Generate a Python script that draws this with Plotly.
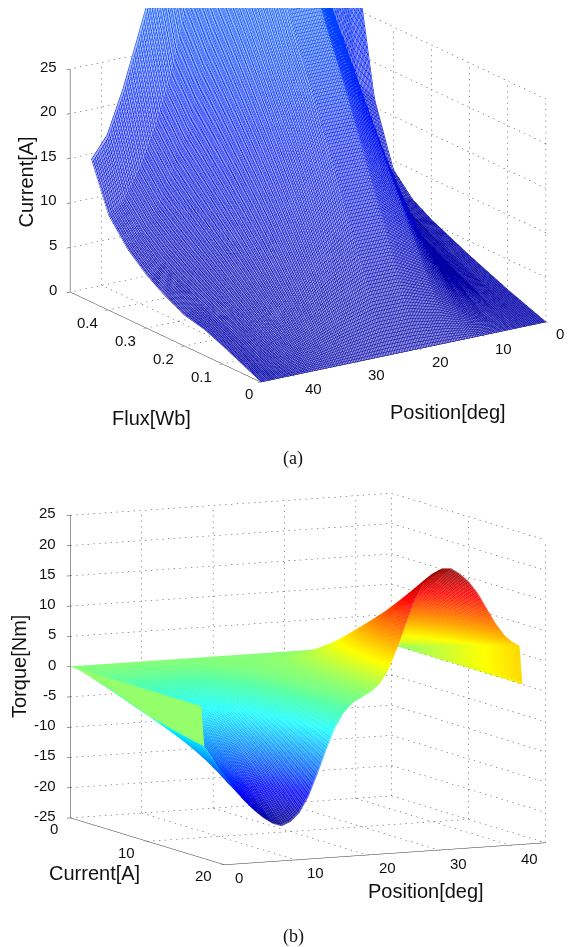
import numpy as np
import plotly.graph_objects as go

# ---------- panel (a) data ----------
flux_wb = [0, .05, .1, .15, .2, .25, .3, .35, .4, .45, .49]
position_a = [0, 2.5, 5, 7.5, 10, 15, 20, 25, 30, 35, 37.5, 40, 42.5, 45]
current_a = [
 [0]*14,
 [.8, .9, 1.1, 1.5, 2.4, 5, 6.5, 6.5, 5, 3, 2.2, 1.6, 1.2, 1.0],
 [1.6, 1.8, 2.2, 3.2, 5, 10, 13, 13, 10, 6, 4.5, 3.2, 2.4, 2.0],
 [2.5, 2.7, 3.3, 4.6, 7.5, 15, 19.5, 19.5, 15, 9, 6.7, 4.8, 3.5, 2.9],
 [3.4, 3.7, 4.4, 6.2, 10, 20, 26, 26, 20, 12, 9, 6.5, 4.6, 3.4],
 [4.4, 4.8, 5.6, 8, 13, 25, 32, 32, 25, 15, 11.2, 8.2, 5.8, 4.5],
 [5.4, 5.9, 7, 10, 16, 30, 39, 39, 30, 18, 13.5, 10, 7.3, 5.9],
 [6.7, 7.3, 8.8, 12.5, 19, 35, 45, 45, 35, 21, 16, 12, 9.3, 7.8],
 [9.0, 9.8, 12, 16, 23, 41, 52, 52, 41, 25, 19.5, 15, 12, 10.6],
 [16, 18, 22, 27, 34, 50, 60, 60, 50, 36, 30, 24, 19, 16.5],
 [28, 32, 38, 45, 55, 68, 72, 72, 70, 70, None, None, None, None],
]
ticks_a_pos = [0, 10, 20, 30, 40]
ticks_a_flux = [0, .1, .2, .3, .4]
ticks_a_cur = [0, 5, 10, 15, 20, 25]
blue_lines = [[0, 'rgb(0,0,165)'], [.25, 'rgb(0,20,255)'], [.5, 'rgb(0,90,255)'], [1, 'rgb(0,180,255)']]
blue_base = [[0, 'rgb(160,160,228)'], [.25, 'rgb(165,172,248)'], [.5, 'rgb(165,195,255)'], [1, 'rgb(180,222,255)']]

# ---------- panel (b) data ----------
current_b = [0, 2, 4, 6, 8, 10, 12, 14, 16, 17]
position_b = [0, .4, .41, 2.5, 5, 6.25, 7.5, 8.75, 10, 11.25, 12.5, 13.75, 15, 16.25, 17.5, 18.75, 20, 21.25, 22.5,
              23.75, 25, 26.25, 27.5, 28.75, 30, 31.25, 32.5, 33.75, 35, 36.25, 37.5, 38.75, 40, 41.25, 42.5, 43.5, 44.6, 45]
# one row per position, one column per current
torque = [
 [0, 0, 0, 0, 0, 0, 0, 0, 0, 0],
 [0, -.8, -1.7, -2.6, -3.6, -4.5, -5.2, -5.8, -6.4, -6.6],
 [0, -.8, -1.7, -2.6, -3.6, -4.5, -5.2, -5.8, -6.4, -6.6],
 [0, -.9, -2, -3.5, -5, -6.4, -7.5, -8.6, -9.9, -10.5],
 [0, -.9, -2.4, -4.4, -6.4, -8.3, -10, -11.7, -13.7, -14.6],
 [0, -.9, -2.6, -4.7, -7, -9.1, -11, -12.9, -15.2, -16.4],
 [0, -.9, -2.7, -5, -7.5, -9.8, -12, -14.1, -16.7, -17.9],
 [0, -.9, -2.8, -5.2, -7.8, -10.3, -12.7, -15, -17.8, -19.2],
 [0, -.9, -2.9, -5.4, -8.1, -10.7, -13.1, -15.8, -18.8, -20.2],
 [0, -.9, -2.9, -5.3, -8.1, -10.7, -13.2, -16.1, -19.2, -20.7],
 [0, -.8, -2.8, -5.2, -7.8, -10.4, -13, -15.7, -18.7, -20.1],
 [0, -.8, -2.6, -4.7, -7.1, -9.4, -11.8, -14.6, -17.4, -18.7],
 [0, -.7, -2.3, -4.1, -6.2, -8.2, -10.3, -12.7, -15, -16.2],
 [0, -.5, -1.7, -3.2, -4.7, -6.3, -8, -9.9, -11.7, -12.6],
 [0, -.4, -1.2, -2.2, -3.3, -4.4, -5.5, -6.8, -8.1, -8.7],
 [0, -.2, -.7, -1.3, -2, -2.6, -3.2, -4, -4.7, -5.1],
 [0, -.1, -.4, -.7, -1, -1.3, -1.7, -2, -2.4, -2.6],
 [0, 0, -.2, -.3, -.4, -.6, -.7, -.9, -1, -1.1],
 [0, 0, 0, 0, -.1, -.1, -.2, -.2, -.3, -.3],
 [0, 0, .1, .1, .2, .3, .3, .4, .5, .5],
 [0, .1, .3, .5, .7, 1, 1.2, 1.4, 1.6, 1.7],
 [0, .2, .6, 1.1, 1.6, 2.2, 2.7, 3.3, 3.8, 4],
 [0, .3, 1, 1.8, 2.8, 3.7, 4.7, 5.8, 7, 7.5],
 [0, .5, 1.5, 2.8, 4.3, 5.7, 7.2, 9, 10.7, 11.5],
 [0, .6, 2, 3.7, 5.6, 7.5, 9.6, 11.9, 14.1, 15.2],
 [0, .7, 2.3, 4.3, 6.6, 8.9, 11.3, 14, 16.6, 17.9],
 [0, .8, 2.5, 4.7, 7.2, 9.6, 12.2, 15.1, 18, 19.4],
 [0, .8, 2.6, 4.8, 7.4, 9.9, 12.7, 15.7, 18.7, 20.1],
 [0, .8, 2.6, 4.8, 7.4, 9.9, 12.6, 15.6, 18.6, 20],
 [0, .8, 2.5, 4.6, 7, 9.4, 12, 14.8, 17.7, 19],
 [0, .8, 2.3, 4.2, 6.5, 8.7, 11.1, 13.7, 16.4, 17.6],
 [0, .7, 2.1, 3.8, 5.8, 7.7, 9.8, 12.2, 14.5, 15.6],
 [0, .7, 1.9, 3.3, 4.9, 6.5, 8.3, 10.2, 12.1, 13],
 [0, .7, 1.7, 2.9, 4.1, 5.4, 6.8, 8.4, 9.9, 10.4],
 [0, .7, 1.6, 2.6, 3.6, 4.6, 5.7, 7, 7.9, 8.3],
 [0, .7, 1.5, 2.4, 3.3, 4.1, 5.1, 6.1, 6.8, 7.2],
 [0, .7, 1.5, 2.3, 3, 3.8, 4.5, 5.3, 6, 6.4],
 [0, 0, 0, 0, 0, 0, 0, 0, 0, 0],
]
ticks_b_pos = [0, 10, 20, 30, 40]
ticks_b_cur = [0, 10, 20]
ticks_b_tq = [-25, -20, -15, -10, -5, 0, 5, 10, 15, 20, 25]
jet = [[0, 'rgb(0,0,143)'], [.11, 'rgb(0,0,255)'], [.36, 'rgb(0,255,255)'], [.61, 'rgb(255,255,0)'], [.86, 'rgb(255,0,0)'], [1, 'rgb(128,0,0)']]
jet_light = [[0, 'rgb(80,80,175)'], [.11, 'rgb(90,90,255)'], [.36, 'rgb(110,255,255)'], [.45, 'rgb(90,255,170)'],
             [.51, 'rgb(148,255,108)'], [.61, 'rgb(255,255,0)'], [.72, 'rgb(255,165,20)'], [.86, 'rgb(255,80,80)'], [1, 'rgb(165,80,80)']]

FW, FH = 570, 947
H_A, H_B = 375, 400
TOP_A, TOP_B = 8, 479
R_A, R_B = 6, 6
DIR_A = (-.789, .527, .3155)
DIR_B = (.894, -.4245, .1445)
K_A, K_B = 343/(H_A/2), 359/(H_B/2)
ASP_A = (K_A, K_A, .685*K_A)
ASP_B = (K_B, .99*K_B, .852*K_B)
DOM_X = [46/FW, 1]
DOM_A = [1 - (TOP_A + H_A)/FH, 1 - TOP_A/FH]
DOM_B = [1 - (TOP_B + H_B)/FH, 1 - TOP_B/FH]


def segs(a, b, n):
    out = []
    a, b = np.array(a, float), np.array(b, float)
    for k in range(n):
        p = a + (b - a) * k / n
        q = a + (b - a) * (k + .24) / n
        out.append((p, q))
    return out


def grid_trace(scene, xr, yr, zr, xt, yt, zt, wall_x, wall_y, nx, ny, nz):
    xs, ys, zs = [], [], []
    def seg(a, b, n):
        for p, q in segs(a, b, n):
            xs.extend([p[0], q[0], None]); ys.extend([p[1], q[1], None]); zs.extend([p[2], q[2], None])
    for z in zt:
        seg((wall_x, yr[0], z), (wall_x, yr[1], z), ny)
        seg((xr[0], wall_y, z), (xr[1], wall_y, z), nx)
    ylines = sorted(set(list(yt) + [yr[0], yr[1]]))
    xlines = sorted(set(list(xt) + [xr[0], xr[1]]))
    for y in ylines:
        seg((wall_x, y, zr[0]), (wall_x, y, zt[-1]), nz)
        seg((xr[0], y, zr[0]), (xr[1], y, zr[0]), nx)
    for x in xlines:
        seg((x, wall_y, zr[0]), (x, wall_y, zt[-1]), nz)
        seg((x, yr[0], zr[0]), (x, yr[1], zr[0]), ny)
    return go.Scatter3d(x=xs, y=ys, z=zs, mode='lines', scene=scene, hoverinfo='skip', showlegend=False,
                        line=dict(color='#333333', width=1))


def axis(rng, vals, visible=True):
    if not visible:
        return dict(visible=False, range=rng)
    return dict(range=rng, tickmode='array', tickvals=vals, showticklabels=False,
                showgrid=False, zeroline=False, showline=True, linecolor='#333333', linewidth=1,
                ticks='outside', ticklen=4, tickcolor='#333333', showbackground=False, title=dict(text=''),
                showspikes=False)


def camera(d, r):
    return dict(projection=dict(type='orthographic'), up=dict(x=0, y=0, z=1), center=dict(x=0, y=0, z=0),
                eye=dict(x=d[0]*r, y=d[1]*r, z=d[2]*r))


def label(x, y, z, text, dx, dy, anchor='center'):
    return dict(x=x, y=y, z=z, text=str(text), showarrow=False, xshift=dx, yshift=-dy, xanchor=anchor,
                font=dict(family='Liberation Sans', size=15, color='#111111'))


def caption(text, px, py, size=20, family='Liberation Sans', angle=0):
    return dict(text=text, x=px/FW, y=1-py/FH, xref='paper', yref='paper', showarrow=False, textangle=angle,
                xanchor='center', yanchor='middle', font=dict(family=family, size=size, color='#111111'))


NOLIGHT = dict(ambient=1, diffuse=0, specular=0, roughness=1, fresnel=0)
fig = go.Figure()

# panel (a): axes scene, then a surface scene with the same centre and scale but a taller z range
fig.add_trace(grid_trace('scene', (0, .5), (0, 45), (0, 25), ticks_a_flux, ticks_a_pos, ticks_a_cur, .5, 0, 37, 51, 39))
za = np.array(current_a, dtype=float).T
fig.add_trace(go.Surface(x=flux_wb, y=position_a, z=za, scene='scene2', colorscale=blue_base, cmin=0, cmax=60,
                         showscale=False, lighting=NOLIGHT, hoverinfo='skip'))
fig.add_trace(go.Surface(x=flux_wb, y=position_a, z=za, scene='scene2', colorscale=blue_lines, cmin=0, cmax=60,
                         showscale=False, lighting=NOLIGHT, hoverinfo='skip', hidesurface=True,
                         contours=dict(x=dict(show=True, start=0, end=.49, size=.0025, usecolormap=True, width=1),
                                       y=dict(show=True, start=0, end=45, size=.25, usecolormap=True, width=1))))

# panel (b)
zb = np.array(torque, dtype=float)
cb = zb.copy()
cb[0, :] = .5
cb[1, :] = .5
cb[-1, :] = cb[-2, :]
fig.add_trace(grid_trace('scene3', (0, 20), (0, 45), (-25, 25), ticks_b_cur, ticks_b_pos, ticks_b_tq, 0, 45, 28, 56, 53))
fig.add_trace(go.Surface(x=current_b, y=position_b, z=zb, surfacecolor=cb, scene='scene3', colorscale=jet_light,
                         cmin=-20.5, cmax=20.5, showscale=False, lighting=NOLIGHT, hoverinfo='skip'))
fig.add_trace(go.Surface(x=current_b, y=position_b, z=zb, surfacecolor=cb, scene='scene3', colorscale=jet,
                         cmin=-20.5, cmax=20.5, showscale=False, lighting=NOLIGHT, hoverinfo='skip', hidesurface=True,
                         contours=dict(x=dict(show=True, start=0, end=17, size=.14, usecolormap=True, width=1),
                                       y=dict(show=True, start=0, end=45, size=.28, usecolormap=True, width=1))))

notes_a = [label(.5, 45, v, v, -11, -3, 'right') for v in ticks_a_cur]
notes_a += [label(v, 45, 0, v, -21 if v else -12, 12 if v else 11) for v in ticks_a_flux]
notes_a += [label(0, v, 0, v, 21 if v else 14, 13 if v else 12) for v in ticks_a_pos]
notes_b = [label(0, 0, v, v, -12, -2.5, 'right') for v in ticks_b_tq]
notes_b += [label(v, 0, -25, v, -21 if v else -16, 11) for v in ticks_b_cur]
notes_b += [label(20, v, -25, v, 20 if v else 15, 13) for v in ticks_b_pos]

za_half = 62.5
fig.update_layout(
    width=FW, height=FH, margin=dict(l=0, r=0, t=0, b=0), paper_bgcolor='white', showlegend=False,
    scene=dict(domain=dict(x=DOM_X, y=DOM_A), aspectmode='manual', aspectratio=dict(x=ASP_A[0], y=ASP_A[1], z=ASP_A[2]),
               camera=camera(DIR_A, R_A), annotations=notes_a,
               xaxis=axis([0, .5], ticks_a_flux), yaxis=axis([0, 45], ticks_a_pos), zaxis=axis([0, 25], ticks_a_cur)),
    scene2=dict(domain=dict(x=DOM_X, y=DOM_A), aspectmode='manual',
                aspectratio=dict(x=ASP_A[0], y=ASP_A[1], z=ASP_A[2]*2*za_half/25),
                camera=camera(DIR_A, R_A),
                xaxis=axis([0, .5], None, False), yaxis=axis([0, 45], None, False),
                zaxis=axis([12.5-za_half, 12.5+za_half], None, False)),
    scene3=dict(domain=dict(x=DOM_X, y=DOM_B), aspectmode='manual', aspectratio=dict(x=ASP_B[0], y=ASP_B[1], z=ASP_B[2]),
                camera=camera(DIR_B, R_B), annotations=notes_b,
                xaxis=axis([0, 20], ticks_b_cur), yaxis=axis([0, 45], ticks_b_pos), zaxis=axis([-25, 25], ticks_b_tq)),
    annotations=[
        caption('(a)', 293, 458, 18, 'Liberation Serif'),
        caption('(b)', 293, 936, 18, 'Liberation Serif'),
        caption('Current[A]', 25.5, 182, angle=-90),
        caption('Flux[Wb]', 151, 418),
        caption('Position[deg]', 448, 412),
        caption('Torque[Nm]', 19, 667, angle=-90),
        caption('Current[A]', 94, 873),
        caption('Position[deg]', 426, 891),
    ],
)
fig.write_html('out.html', config={'displayModeBar': False},
               post_script="document.body.style.margin='0';document.body.style.overflow='hidden';")
